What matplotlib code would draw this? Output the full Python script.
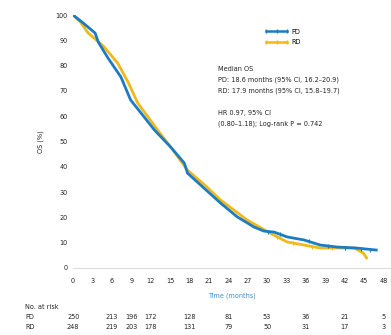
import matplotlib
matplotlib.use('Agg')
import matplotlib.pyplot as plt
import matplotlib.transforms as mtransforms

# Kaplan-Meier curves (months, % surviving)
blue_t = [0, 1.5, 3.4, 3.9, 5.4, 7.4, 8.9, 10.5, 12.6, 15.1, 17.2, 17.7, 20.5,
          22.8, 25.4, 28.0, 29.5, 31.1, 33.1, 35.7, 38.2, 40.8, 43.8, 46.9]
blue_s = [100, 97, 92.9, 89.3, 83.0, 75.5, 66.4, 61.3, 54.5, 47.8, 41.5, 37.5, 31.0,
          25.7, 20.2, 16.2, 14.6, 14.2, 12.3, 11.1, 9.1, 8.3, 7.9, 7.1]
gold_t = [0, 1.2, 2.3, 4.8, 6.9, 8.5, 10.0, 13.1, 15.1, 17.7, 20.5, 22.8, 26.9,
          30.5, 33.1, 35.7, 38.2, 43.5, 44.9, 45.4]
gold_s = [100, 97, 93.0, 87.4, 81.0, 73.5, 65.2, 54.5, 47.8, 38.7, 32.5, 26.9, 19.0,
          13.8, 10.3, 9.1, 7.9, 7.9, 5.9, 4.0]

# censor marks
blue_cens_t = [30.2, 32.0, 36.5, 39.5, 42.0, 44.5, 46.0]
blue_cens_s = [14.4, 13.3, 10.7, 8.8, 8.1, 7.7, 7.3]
gold_cens_t = [31.5, 34.0, 37.0, 40.0, 42.0]
gold_cens_s = [12.3, 9.8, 8.5, 7.9, 7.9]

arm_names = ['PD', 'RD']
arm_colors = ['#1b7cc3', '#f1b81a']

x_ticks = list(range(0, 49, 3))
y_ticks = list(range(0, 101, 10))

risk_times = [0, 6, 9, 12, 18, 24, 30, 36, 42, 48]
risk_blue = [250, 213, 196, 172, 128, 81, 53, 36, 21, 5]
risk_gold = [248, 219, 203, 178, 131, 79, 50, 31, 17, 3]

note_lines = ['Median OS',
              'PD: 18.6 months (95% CI, 16.2\u201320.9)',
              'RD: 17.9 months (95% CI, 15.8\u201319.7)',
              '',
              'HR 0.97, 95% CI',
              '(0.80\u20131.18); Log-rank P = 0.742']

fs = 4.7
fig = plt.figure(figsize=(3.91, 3.35), dpi=100)
ax = fig.add_axes([0.187, 0.2, 0.81, 0.755])

ax.plot(blue_t, blue_s, color=arm_colors[0], lw=2.0, zorder=3)
ax.plot(gold_t, gold_s, color=arm_colors[1], lw=2.0, zorder=2)
ax.plot(blue_cens_t, blue_cens_s, ls='none', marker='|', ms=3, mew=0.8,
        color=arm_colors[0], zorder=3)
ax.plot(gold_cens_t, gold_cens_s, ls='none', marker='|', ms=3, mew=0.8,
        color=arm_colors[1], zorder=2)

# legend handles: line with censor ticks
h1, = ax.plot([], [], color=arm_colors[0], lw=1.8, marker='|', ms=3)
h2, = ax.plot([], [], color=arm_colors[1], lw=1.8, marker='|', ms=3)
ax.legend([h1, h2], arm_names, loc='upper left', bbox_to_anchor=(0.585, 0.97),
          frameon=False, fontsize=fs, handlelength=3.8, handletextpad=0.3,
          labelspacing=0.75, numpoints=3)

ax.set_xlim(0, 49)
ax.set_ylim(0, 100)
ax.set_xticks(x_ticks)
ax.set_yticks(y_ticks)
ax.tick_params(labelsize=fs, length=0, pad=4, colors='#222222')
ax.tick_params(axis='x', pad=7)
for s in ['top', 'right', 'left']:
    ax.spines[s].set_visible(False)
ax.spines['bottom'].set_color('#dddddd')
ax.spines['bottom'].set_linewidth(0.8)

ax.set_ylabel('OS (%)', fontsize=fs, labelpad=8, color='#222222')
ax.set_xlabel('Time (months)', fontsize=fs, labelpad=6, color='#3d8fd1')

ax.text(0.458, 0.80, '\n'.join(note_lines), transform=ax.transAxes,
        fontsize=fs, va='top', ha='left', linespacing=1.95, color='#222222')

# number at risk table
trans = mtransforms.blended_transform_factory(ax.transData, fig.transFigure)
fig.text(25 / 391, 1 - 307 / 335, 'No. at risk', fontsize=fs, va='center', color='#222222')
rows = [risk_blue, risk_gold]
row_y = [1 - 317 / 335, 1 - 327 / 335]
for name, vals, yy in zip(arm_names, rows, row_y):
    fig.text(25 / 391, yy, name, fontsize=fs, va='center', color='#222222')
    for t, v in zip(risk_times, vals):
        fig.text(t, yy, str(v), transform=trans, fontsize=fs, va='center',
                 ha='center', color='#222222')

fig.savefig('out.png', dpi=100)
